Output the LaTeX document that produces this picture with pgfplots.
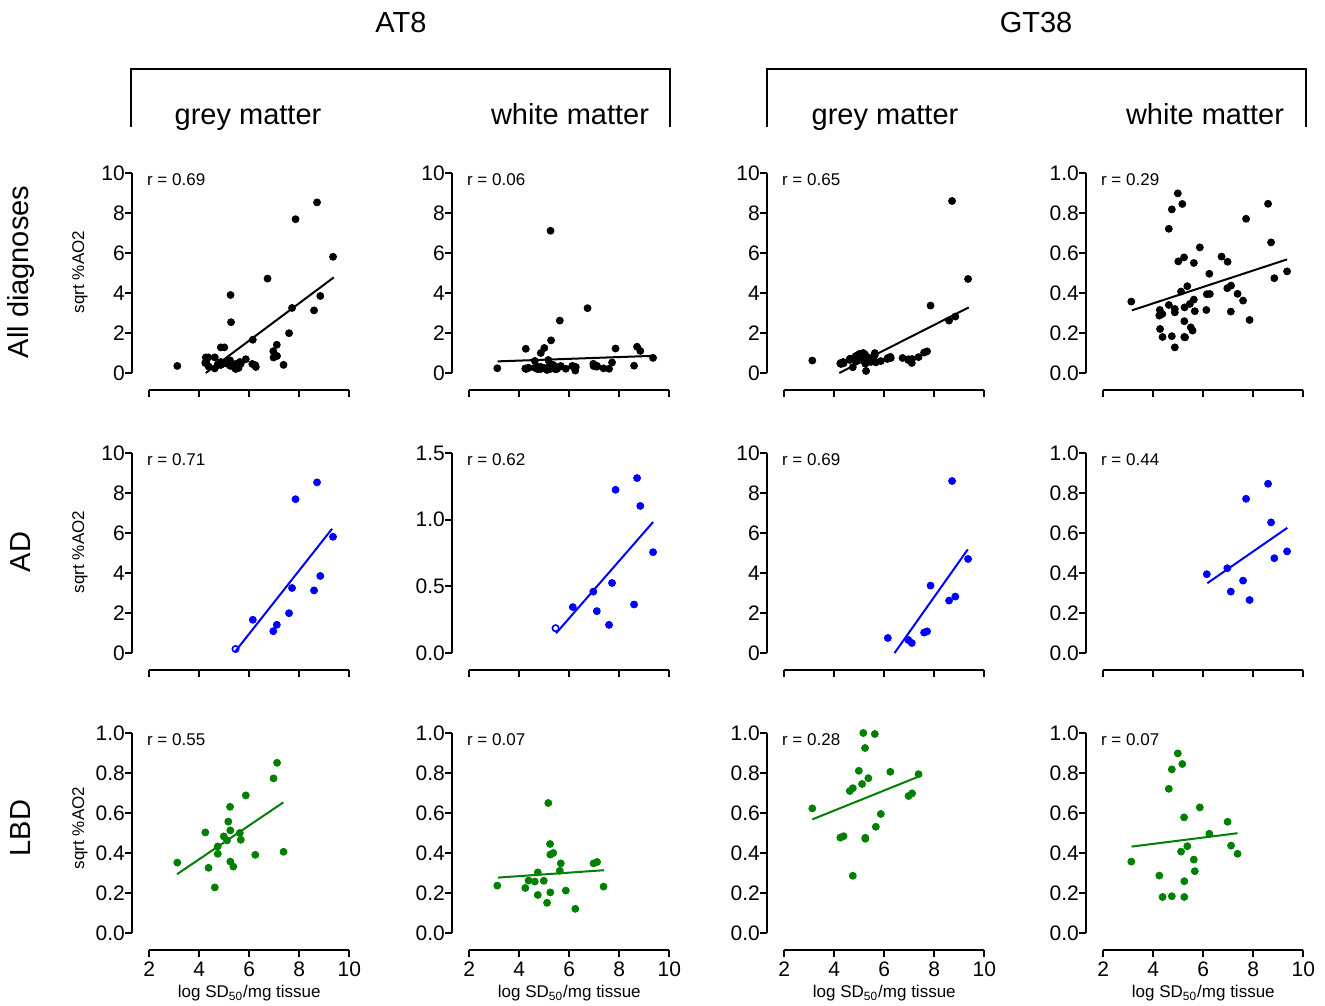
\documentclass[border=0pt]{standalone}
\usepackage{fontspec}
\setmainfont{Liberation Sans}
\usepackage{pgfplots}
\usepackage{pgfplotstable}
\pgfplotsset{compat=1.18}
\definecolor{adblue}{RGB}{0,0,255}
\definecolor{lbdgreen}{RGB}{0,128,0}

% columns: AT8 grey (agm), AT8 white (awm), GT38 grey (ggm), GT38 white (gwm)
\pgfplotstableread{
x    agm   awm   ggm  gwm
6.14 1.66 0.344 0.75 0.394
6.96 1.09 0.460 0.65 0.424
7.10 1.41 0.314 0.50 0.307
7.59 1.99 0.211 1.02 0.362
7.71 3.25 0.525 1.08 0.771
7.85 7.69 1.224 3.37 0.265
8.59 3.13 0.364 2.62 0.846
8.71 8.53 1.312 8.60 0.653
8.84 3.85 1.103 2.82 0.474
9.35 5.81 0.756 4.70 0.508
}\adtab
\pgfplotstableread{
x    agm   awm   ggm  gwm
5.45 0.20 0.186 nan  nan
}\adopen
\pgfplotstableread{
x    agm   awm   ggm   gwm
3.12 0.352 0.237 0.623 0.357
4.24 0.503 0.225 0.477 0.287
4.37 0.326 0.262 0.484 0.180
4.62 0.228 0.257 0.710 0.721
4.74 0.433 0.303 0.724 0.818
4.74 0.396 0.190 0.286 0.184
4.98 0.483 0.261 0.811 0.898
5.11 0.463 0.151 0.745 0.407
5.16 0.557 0.650 1.000 0.845
5.23 0.631 0.445 0.925 0.578
5.24 0.513 0.392 0.476 0.259
5.24 0.357 0.203 0.471 0.180
5.36 0.332 0.400 0.774 0.434
5.62 0.500 0.311 0.995 0.367
5.66 0.466 0.348 0.531 0.309
5.86 0.688 0.212 0.595 0.628
6.24 0.391 0.121 0.806 0.496
6.97 0.773 0.348 0.685 0.556
7.11 0.851 0.355 0.698 0.437
7.37 0.406 0.232 0.794 0.396
}\lbdtab
\pgfplotstableread{
x    agm  awm  ggm  gwm
4.26 0.78 1.21 0.50 0.315
4.27 0.55 0.20 0.45 0.220
4.36 0.78 0.25 0.55 0.295
4.62 0.78 0.60 0.65 0.340
4.86 1.28 1.00 0.80 0.128
4.86 0.55 0.20 0.85 0.320
4.86 0.40 0.30 0.60 0.303
5.00 1.28 1.25 0.95 0.558
5.25 3.90 7.11 0.70 0.328
5.27 2.54 1.63 0.10 0.178
5.46 0.45 0.25 0.55 0.345
5.50 0.30 0.20 0.60 0.228
5.57 0.25 0.30 0.65 0.212
5.62 0.55 2.62 0.90 0.550
6.12 0.45 0.35 0.70 0.315
6.26 0.30 0.30 0.75 0.395
6.73 4.72 3.24 0.75 0.582
}\othtab

\pgfplotsset{
  panel/.style={
    scale only axis, width=100pt, height=100pt, anchor=south west,
    xmin=2, xmax=10, ymin=0,
    axis lines=left, axis line style={-, line width=0.9pt},
    axis x line shift=8.5pt, axis y line shift=8.5pt,
    tick align=outside, major tick length=3.5pt,
    every tick/.style={line width=0.9pt, black},
    xtick={2,4,6,8,10},
    /pgf/number format/assume math mode=true,
    tick label style={font=\fontsize{10.5}{12}\selectfont},
    yticklabel style={xshift=3.3pt},
    xticklabel style={yshift=1pt},
    clip=false,
  },
  ten/.style={ymax=10, ytick={0,2,4,6,8,10}},
  one/.style={ymax=1, ytick={0,0.2,0.4,0.6,0.8,1.0},
    yticklabel style={/pgf/number format/fixed, /pgf/number format/fixed zerofill, /pgf/number format/precision=1}},
  onefive/.style={ymax=1.5, ytick={0,0.5,1,1.5},
    yticklabel style={/pgf/number format/fixed, /pgf/number format/fixed zerofill, /pgf/number format/precision=1}},
  nox/.style={xticklabels={}},
  dot/.style={only marks, mark=*, mark size=1.75pt},
  fit/.style={no marks, line width=1pt},
}
\newcommand{\rval}[1]{\node[anchor=north west, inner sep=0pt, xshift=-1.3pt, font=\fontsize{8.5}{10}\selectfont] at (rel axis cs:0,1) {r = #1};}

\begin{document}
\begin{tikzpicture}
\path[use as bounding box] (0,0) rectangle (662.5pt,502.5pt);

% headers
\node[anchor=base, font=\fontsize{14.5}{17}\selectfont] at (200.5pt,486pt) {AT8};
\node[anchor=base, font=\fontsize{14.5}{17}\selectfont] at (518pt,486pt) {GT38};
\draw[line width=0.9pt] (65.5pt,439pt) -- (65.5pt,468pt) -- (335pt,468pt) -- (335pt,439pt);
\draw[line width=0.9pt] (383.5pt,439pt) -- (383.5pt,468pt) -- (653pt,468pt) -- (653pt,439pt);
\node[anchor=base, font=\fontsize{14.5}{17}\selectfont] at (124pt,440pt) {grey matter};
\node[anchor=base, font=\fontsize{14.5}{17}\selectfont] at (285pt,440pt) {white matter};
\node[anchor=base, font=\fontsize{14.5}{17}\selectfont] at (442.5pt,440pt) {grey matter};
\node[anchor=base, font=\fontsize{14.5}{17}\selectfont] at (602.5pt,440pt) {white matter};

% row labels
\node[rotate=90, font=\fontsize{14.5}{17}\selectfont] at (10.5pt,366.5pt) {All diagnoses};
\node[rotate=90, font=\fontsize{14.5}{17}\selectfont] at (10.5pt,226.5pt) {AD};
\node[rotate=90, font=\fontsize{14.5}{17}\selectfont] at (10.5pt,88.5pt) {LBD};
\node[rotate=90, font=\fontsize{8.5}{10}\selectfont] at (40pt,366.5pt) {sqrt \%AO2};
\node[rotate=90, font=\fontsize{8.5}{10}\selectfont] at (40pt,226.5pt) {sqrt \%AO2};
\node[rotate=90, font=\fontsize{8.5}{10}\selectfont] at (40pt,88.5pt) {sqrt \%AO2};

% x labels
\foreach \xx in {124.65,284.65,442.15,601.65}
  \node[font=\fontsize{8.5}{10}\selectfont] at (\xx pt,6pt) {log SD\textsubscript{50}/mg tissue};

%%%% row 1: all diagnoses
\begin{axis}[panel, ten, nox, at={(74.65pt,316pt)}]
  \addplot[dot, black] table[x=x, y=agm] {\othtab};
  \addplot[dot, black] table[x=x, y=agm] {\lbdtab};
  \addplot[dot, black] table[x=x, y=agm] {\adtab};
  \addplot[dot, black] table[x=x, y=agm] {\adopen};
  \addplot[fit, black] coordinates {(4.26,0) (9.38,4.78)};
  \rval{0.69}
\end{axis}
\begin{axis}[panel, ten, nox, at={(234.65pt,316pt)}]
  \addplot[dot, black] table[x=x, y=awm] {\othtab};
  \addplot[dot, black] table[x=x, y=awm] {\lbdtab};
  \addplot[dot, black] table[x=x, y=awm] {\adtab};
  \addplot[dot, black] table[x=x, y=awm] {\adopen};
  \addplot[fit, black] coordinates {(3.13,0.58) (9.42,0.86)};
  \rval{0.06}
\end{axis}
\begin{axis}[panel, ten, nox, at={(392.15pt,316pt)}]
  \addplot[dot, black] table[x=x, y=ggm] {\othtab};
  \addplot[dot, black] table[x=x, y=ggm] {\lbdtab};
  \addplot[dot, black] table[x=x, y=ggm] {\adtab};
  \addplot[fit, black] coordinates {(4.20,0) (9.38,3.28)};
  \rval{0.65}
\end{axis}
\begin{axis}[panel, one, nox, at={(551.65pt,316pt)}]
  \addplot[dot, black] table[x=x, y=gwm] {\othtab};
  \addplot[dot, black] table[x=x, y=gwm] {\lbdtab};
  \addplot[dot, black] table[x=x, y=gwm] {\adtab};
  \addplot[fit, black] coordinates {(3.14,0.313) (9.35,0.568)};
  \rval{0.29}
\end{axis}

%%%% row 2: AD
\begin{axis}[panel, ten, nox, at={(74.65pt,176pt)}]
  \addplot[dot, adblue] table[x=x, y=agm] {\adtab};
  \addplot[only marks, mark=o, mark size=1.6pt, adblue, line width=0.8pt] table[x=x, y=agm] {\adopen};
  \addplot[fit, adblue] coordinates {(5.44,0.08) (9.31,6.21)};
  \rval{0.71}
\end{axis}
\begin{axis}[panel, onefive, nox, at={(234.65pt,176pt)}]
  \addplot[dot, adblue] table[x=x, y=awm] {\adtab};
  \addplot[only marks, mark=o, mark size=1.6pt, adblue, line width=0.8pt] table[x=x, y=awm] {\adopen};
  \addplot[fit, adblue] coordinates {(5.47,0.148) (9.35,0.982)};
  \rval{0.62}
\end{axis}
\begin{axis}[panel, ten, nox, at={(392.15pt,176pt)}]
  \addplot[dot, adblue] table[x=x, y=ggm] {\adtab};
  \addplot[fit, adblue] coordinates {(6.41,0) (9.34,5.18)};
  \rval{0.69}
\end{axis}
\begin{axis}[panel, one, nox, at={(551.65pt,176pt)}]
  \addplot[dot, adblue] table[x=x, y=gwm] {\adtab};
  \addplot[fit, adblue] coordinates {(6.16,0.349) (9.36,0.626)};
  \rval{0.44}
\end{axis}

%%%% row 3: LBD
\begin{axis}[panel, one, at={(74.65pt,36pt)}]
  \addplot[dot, lbdgreen] table[x=x, y=agm] {\lbdtab};
  \addplot[fit, lbdgreen] coordinates {(3.11,0.294) (7.36,0.653)};
  \rval{0.55}
\end{axis}
\begin{axis}[panel, one, at={(234.65pt,36pt)}]
  \addplot[dot, lbdgreen] table[x=x, y=awm] {\lbdtab};
  \addplot[fit, lbdgreen] coordinates {(3.15,0.277) (7.39,0.314)};
  \rval{0.07}
\end{axis}
\begin{axis}[panel, one, at={(392.15pt,36pt)}]
  \addplot[dot, lbdgreen] table[x=x, y=ggm] {\lbdtab};
  \addplot[fit, lbdgreen] coordinates {(3.12,0.568) (7.37,0.782)};
  \rval{0.28}
\end{axis}
\begin{axis}[panel, one, at={(551.65pt,36pt)}]
  \addplot[dot, lbdgreen] table[x=x, y=gwm] {\lbdtab};
  \addplot[fit, lbdgreen] coordinates {(3.13,0.432) (7.37,0.499)};
  \rval{0.07}
\end{axis}
\end{tikzpicture}
\end{document}
